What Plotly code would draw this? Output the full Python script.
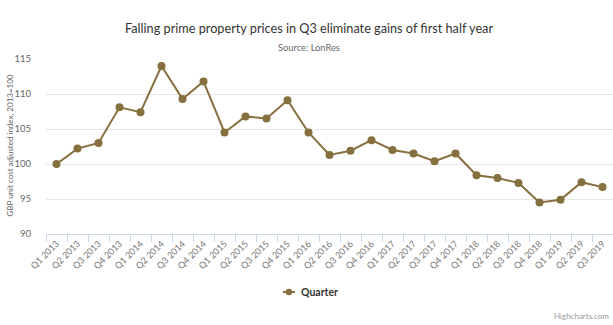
import plotly.graph_objects as go

quarters = ["Q1 2013", "Q2 2013", "Q3 2013", "Q4 2013",
            "Q1 2014", "Q2 2014", "Q3 2014", "Q4 2014",
            "Q1 2015", "Q2 2015", "Q3 2015", "Q4 2015",
            "Q1 2016", "Q2 2016", "Q3 2016", "Q4 2016",
            "Q1 2017", "Q2 2017", "Q3 2017", "Q4 2017",
            "Q1 2018", "Q2 2018", "Q3 2018", "Q4 2018",
            "Q1 2019", "Q2 2019", "Q3 2019"]
index_values = [100.0, 102.2, 103.0, 108.1,
                107.4, 114.0, 109.3, 111.8,
                104.5, 106.8, 106.5, 109.1,
                104.5, 101.3, 101.9, 103.4,
                102.0, 101.5, 100.4, 101.5,
                98.4, 98.0, 97.3, 94.5,
                94.9, 97.4, 96.7]
y_ticks = [90, 95, 100, 105, 110, 115]
series_name = "Quarter"

FONT = "Lato"
LINE = "#86703F"

# plot area in pixels
L, R, T, B = 46, 613, 59, 234
PW, PH = R - L, B - T


def px(x):
    return (x - L) / PW


def py(y):
    return (B - y) / PH


fig = go.Figure()
fig.add_trace(go.Scatter(
    x=quarters, y=index_values, name=series_name, mode="lines+markers",
    line=dict(color=LINE, width=2),
    marker=dict(color=LINE, size=8),
    showlegend=False,
))

fig.update_layout(
    width=613, height=325,
    margin=dict(l=L, r=613 - R, t=T, b=325 - B),
    paper_bgcolor="white", plot_bgcolor="white",
    font=dict(family=FONT, color="#666666"),
    title=dict(text="Falling prime property prices in Q3 eliminate gains of first half year",
               x=309 / 613, xref="container", xanchor="center",
               y=1 - 29 / 325, yref="container", yanchor="middle",
               font=dict(family=FONT, size=12.7, color="#333333")),
    xaxis=dict(
        type="category", range=[-0.5, 26.5],
        tickangle=-45, tickfont=dict(family=FONT, size=9, color="#777777"),
        showline=True, linecolor="#ccd6eb", linewidth=1,
        ticks="outside", tickson="boundaries", ticklen=7, tickcolor="#ccd6eb",
        showgrid=False, zeroline=False,
    ),
    yaxis=dict(
        range=[90, 115], tickvals=y_ticks,
        tickfont=dict(family=FONT, size=9.5, color="#666666"),
        showgrid=True, gridcolor="#e6e6e6", gridwidth=1,
        ticks="outside", ticklen=12, tickcolor="rgba(0,0,0,0)",
        zeroline=False, showline=False,
    ),
)

# subtitle
fig.add_annotation(text="Source: LonRes", xref="paper", yref="paper",
                   x=px(308.5), y=py(47), xanchor="center", yanchor="middle",
                   showarrow=False, font=dict(family=FONT, size=9.3, color="#666666"))
# y axis title
fig.add_annotation(text="GBP unit cost adjusted index, 2013=100", xref="paper", yref="paper",
                   x=px(9.5), y=py(146), xanchor="center", yanchor="middle", textangle=-90,
                   showarrow=False, font=dict(family=FONT, size=8, color="#666666"))
# credits
fig.add_annotation(text="Highcharts.com", xref="paper", yref="paper",
                   x=px(611), y=py(316), xanchor="right", yanchor="middle",
                   showarrow=False, font=dict(family=FONT, size=8, color="#999999"))

# legend (Highcharts style: short line with a dot, bold label)
fig.add_shape(type="line", xref="paper", yref="paper",
              x0=px(283), x1=px(295), y0=py(292), y1=py(292),
              line=dict(color=LINE, width=2))
fig.add_shape(type="circle", xref="paper", yref="paper",
              xsizemode="pixel", ysizemode="pixel",
              xanchor=px(289), yanchor=py(292),
              x0=-3.3, x1=3.3, y0=-3.3, y1=3.3,
              fillcolor=LINE, line=dict(color=LINE, width=0))
fig.add_annotation(text="<b>" + series_name + "</b>", xref="paper", yref="paper",
                   x=px(299), y=py(292), xanchor="left", yanchor="middle",
                   showarrow=False, font=dict(family=FONT, size=10.5, color="#333333"))

fig.write_html("out.html")
